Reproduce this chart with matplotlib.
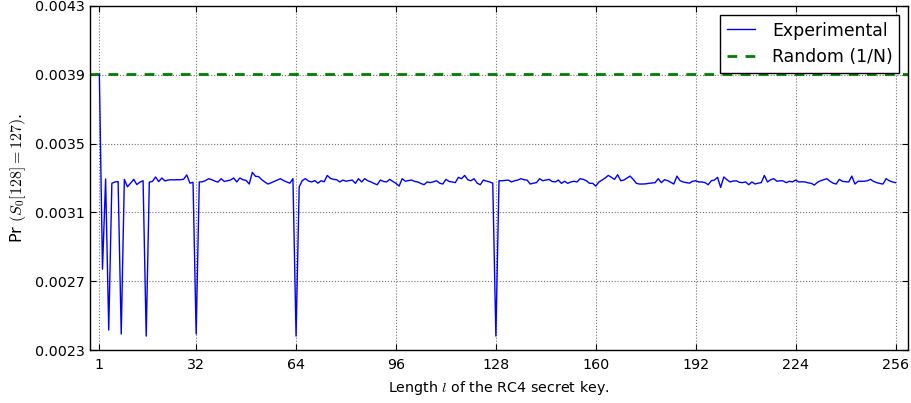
import numpy as np
import matplotlib
matplotlib.use("Agg")
import matplotlib.pyplot as plt

plt.rcParams['font.family'] = ['DejaVu Sans']
plt.rcParams['mathtext.fontset'] = 'cm'

key_lengths = list(range(1, 257))
experimental = [
    0.003900, 0.002770, 0.003294, 0.002416, 0.003269, 0.003277, 0.003279, 0.002393,
    0.003292, 0.003249, 0.003270, 0.003292, 0.003262, 0.003276, 0.003284, 0.002381,
    0.003276, 0.003280, 0.003306, 0.003279, 0.003300, 0.003283, 0.003288, 0.003290,
    0.003289, 0.003290, 0.003290, 0.003293, 0.003318, 0.003270, 0.003275, 0.002393,
    0.003277, 0.003278, 0.003285, 0.003296, 0.003290, 0.003282, 0.003276, 0.003296,
    0.003280, 0.003284, 0.003288, 0.003300, 0.003277, 0.003300, 0.003290, 0.003286,
    0.003265, 0.003333, 0.003310, 0.003308, 0.003290, 0.003277, 0.003265, 0.003272,
    0.003280, 0.003288, 0.003296, 0.003285, 0.003277, 0.003270, 0.003296, 0.002381,
    0.003249, 0.003285, 0.003296, 0.003282, 0.003277, 0.003285, 0.003270, 0.003284,
    0.003278, 0.003315, 0.003298, 0.003292, 0.003290, 0.003277, 0.003288, 0.003281,
    0.003285, 0.003288, 0.003269, 0.003296, 0.003277, 0.003296, 0.003284, 0.003277,
    0.003268, 0.003261, 0.003288, 0.003280, 0.003277, 0.003292, 0.003280, 0.003269,
    0.003253, 0.003296, 0.003281, 0.003285, 0.003288, 0.003280, 0.003277, 0.003268,
    0.003261, 0.003277, 0.003273, 0.003278, 0.003284, 0.003270, 0.003265, 0.003292,
    0.003280, 0.003277, 0.003273, 0.003304, 0.003296, 0.003315, 0.003290, 0.003284,
    0.003296, 0.003270, 0.003261, 0.003288, 0.003282, 0.003277, 0.003270, 0.002381,
    0.003284, 0.003284, 0.003286, 0.003288, 0.003277, 0.003284, 0.003288, 0.003296,
    0.003290, 0.003288, 0.003265, 0.003270, 0.003273, 0.003296, 0.003284, 0.003288,
    0.003292, 0.003280, 0.003277, 0.003288, 0.003269, 0.003281, 0.003269, 0.003277,
    0.003281, 0.003277, 0.003296, 0.003292, 0.003284, 0.003269, 0.003269, 0.003253,
    0.003277, 0.003288, 0.003300, 0.003315, 0.003304, 0.003292, 0.003319, 0.003284,
    0.003288, 0.003300, 0.003311, 0.003292, 0.003269, 0.003265, 0.003265, 0.003266,
    0.003269, 0.003271, 0.003273, 0.003296, 0.003273, 0.003290, 0.003285, 0.003275,
    0.003265, 0.003311, 0.003284, 0.003277, 0.003273, 0.003270, 0.003281, 0.003284,
    0.003277, 0.003277, 0.003273, 0.003261, 0.003284, 0.003288, 0.003304, 0.003245,
    0.003306, 0.003290, 0.003277, 0.003282, 0.003284, 0.003275, 0.003273, 0.003277,
    0.003261, 0.003277, 0.003265, 0.003270, 0.003273, 0.003315, 0.003277, 0.003290,
    0.003296, 0.003281, 0.003284, 0.003283, 0.003273, 0.003281, 0.003277, 0.003288,
    0.003277, 0.003278, 0.003277, 0.003272, 0.003269, 0.003259, 0.003275, 0.003284,
    0.003290, 0.003296, 0.003281, 0.003270, 0.003265, 0.003292, 0.003281, 0.003278,
    0.003277, 0.003311, 0.003265, 0.003281, 0.003281, 0.003281, 0.003284, 0.003292,
    0.003280, 0.003273, 0.003268, 0.003265, 0.003296, 0.003284, 0.003277, 0.003273,
]
random_level = 1.0 / 256

x_ticks = [1, 32, 64, 96, 128, 160, 192, 224, 256]
y_ticks = [0.0023, 0.0027, 0.0031, 0.0035, 0.0039, 0.0043]
y_tick_labels = ["0.0023", "0.0027", "0.0031", "0.0035", "0.0039", "0.0043"]

fig = plt.figure(figsize=(9.11, 4.03), dpi=100)
ax = fig.add_axes([90 / 911, 1 - 350 / 403, (908 - 90) / 911, (350 - 6) / 403])

ax.plot(key_lengths, experimental, color=(0, 0, 1), lw=1.0, label="Experimental", zorder=3)
ax.axhline(random_level, color=(0, 0.5, 0), lw=2.0, ls=(0, (3.5, 3)), label="Random (1/N)", zorder=2)

ax.set_xlim(-2, 260)
ax.set_ylim(0.0023, 0.0043)
ax.set_xticks(x_ticks)
ax.set_yticks(y_ticks)
ax.set_yticklabels(y_tick_labels)
ax.tick_params(direction="in", top=True, right=True, labelsize=10.3, length=4, width=0.8)
ax.tick_params(axis="x", pad=6)
ax.grid(True, color="0.45", linestyle=":", linewidth=0.8)
for s in ax.spines.values():
    s.set_linewidth(1.0)
    s.set_color("black")

ax.set_xlabel(r"Length $l$ of the RC4 secret key.", fontsize=10.3, labelpad=5)
ax.set_ylabel(r"Pr $(S_0[128]=127)$.", fontsize=11.5, labelpad=5)

leg = ax.legend(loc="upper right", fontsize=12.4, fancybox=False, framealpha=1,
                edgecolor="black", handlelength=1.6, handletextpad=1.0,
                borderaxespad=0.5)
leg.get_frame().set_linewidth(1.0)

fig.savefig("out.png", dpi=100)
